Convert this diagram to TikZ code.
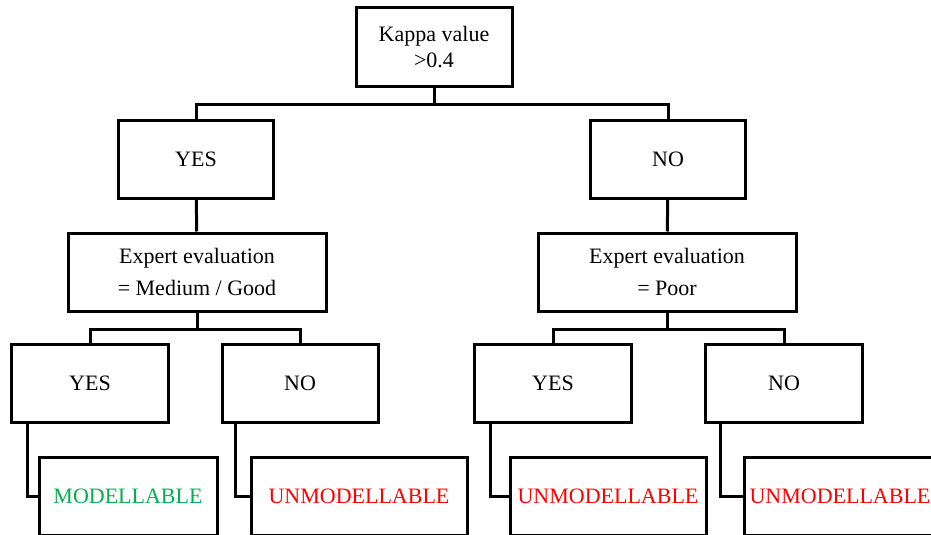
\documentclass[tikz,border=0pt]{standalone}
\usepackage{fontspec}
\setmainfont{Liberation Serif}
\definecolor{okgreen}{HTML}{00B050}
\definecolor{badred}{HTML}{FF0000}

\begin{document}
\begin{tikzpicture}[x=1pt,y=1pt,
	font=\fontsize{22}{26}\selectfont,
	box/.style={draw,line width=3pt,minimum height=78pt,inner sep=0pt,align=center},
	link/.style={line width=3pt,line join=miter}
	]
	\useasboundingbox (0,0) rectangle (931,-535);
	\node[box,minimum width=156pt] (kappa) at (434,-47) {Kappa value\\>0.4};
	\node[box,minimum width=155pt] (yes) at (196,-159) {YES};
	\node[box,minimum width=155pt] (no) at (668,-159) {NO};
	\node[box,minimum width=258pt] (evalgood) at (197,-272) {Expert evaluation\\[6pt]= Medium / Good};
	\node[box,minimum width=258pt] (evalpoor) at (667,-272) {Expert evaluation\\[6pt]= Poor};
	\node[box,minimum width=157pt] (goodyes) at (90,-383) {YES};
	\node[box,minimum width=156pt] (goodno) at (300,-383) {NO};
	\node[box,minimum width=157pt] (pooryes) at (553,-383) {YES};
	\node[box,minimum width=157pt] (poorno) at (784,-383) {NO};
	\node[box,minimum width=178pt,text=okgreen] (leafa) at (128,-496) {MODELLABLE};
	\node[box,minimum width=216pt,text=badred] (leafb) at (359,-496) {UNMODELLABLE};
	\node[box,minimum width=196pt,text=badred] (leafc) at (608,-496) {UNMODELLABLE};
	\node[box,minimum width=192pt,text=badred] (leafd) at (840,-496) {UNMODELLABLE};

	\draw[link] (kappa.south) -- ++(0,-17) coordinate (kbar);
	\draw[link] (yes.north) |- (kbar) -| (no.north);
	\draw[link] (yes) -- (evalgood);
	\draw[link] (no) -- (evalpoor);
	\draw[link] (evalgood.south) -- ++(0,-17) coordinate (gbar);
	\draw[link] (goodyes.north) |- (gbar) -| (goodno.north);
	\draw[link] (evalpoor.south) -- ++(0,-17) coordinate (pbar);
	\draw[link] (pooryes.north) |- (pbar) -| (poorno.north);
	\draw[link] ([xshift=17pt]goodyes.south west) |- (leafa.west);
	\draw[link] ([xshift=15pt]goodno.south west) |- (leafb.west);
	\draw[link] ([xshift=17pt]pooryes.south west) |- (leafc.west);
	\draw[link] ([xshift=16pt]poorno.south west) |- (leafd.west);
\end{tikzpicture}
\end{document}
